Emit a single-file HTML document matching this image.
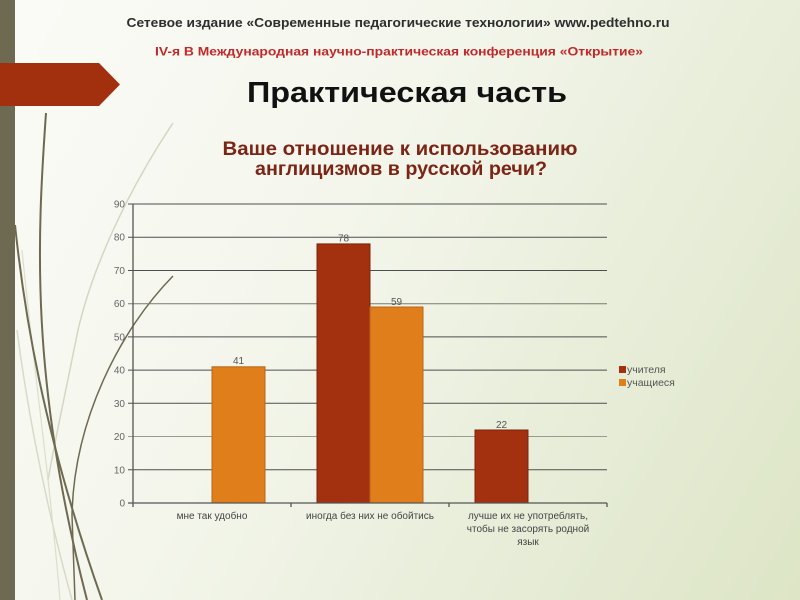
<!DOCTYPE html>
<html><head><meta charset="utf-8"><style>
html,body{margin:0;padding:0;}
body{width:800px;height:600px;overflow:hidden;background:linear-gradient(120deg,#fbfbf7 0%,#f4f6ec 40%,#e6ecd6 75%,#dde5c6 100%);}
svg{display:block;}
</style></head><body>
<svg width="800" height="600" viewBox="0 0 800 600" xmlns="http://www.w3.org/2000/svg" font-family="'Liberation Sans', sans-serif">
<!-- decorative curves -->
<g fill="none">
<path d="M173,123 C125,195 92,270 78,330 C66,390 55,440 48,480" stroke="#d4d6c4" stroke-width="1.5"/>
<path d="M17,330 C30,430 50,520 72,600" stroke="#d8dac8" stroke-width="1.5"/>
<path d="M22,250 C35,380 50,480 60,600" stroke="#dcdecc" stroke-width="1.2"/>
<path d="M46,113 C37,240 30,380 87,600" stroke="#6e6951" stroke-width="2"/>
<path d="M15,225 C24,310 42,430 102,600" stroke="#6e6951" stroke-width="2"/>
<path d="M173,276 C120,330 74,420 72,515 L75,600" stroke="#6e6951" stroke-width="1.5"/>
</g>
<!-- left bar -->
<rect x="0" y="0" width="15" height="600" fill="#6e6951"/>
<!-- red arrow -->
<polygon points="0,63 99,63 120,84.5 99,106 0,106" fill="#a2300f"/>
<!-- header -->
<text x="398" y="27" font-size="12.5" font-weight="bold" fill="#2e2e2e" text-anchor="middle" textLength="543" lengthAdjust="spacingAndGlyphs">Сетевое издание «Современные педагогические технологии» www.pedtehno.ru</text>
<text x="399" y="55.5" font-size="11.5" font-weight="bold" fill="#c0282a" text-anchor="middle" textLength="488" lengthAdjust="spacingAndGlyphs">IV-я В Международная научно-практическая конференция «Открытие»</text>
<text x="407" y="102" font-size="29" font-weight="bold" fill="#111" text-anchor="middle" textLength="320" lengthAdjust="spacingAndGlyphs">Практическая часть</text>
<text x="400" y="155" font-size="19" font-weight="bold" fill="#7b2516" text-anchor="middle" textLength="355" lengthAdjust="spacingAndGlyphs">Ваше отношение к использованию</text>
<text x="401" y="175" font-size="19" font-weight="bold" fill="#7b2516" text-anchor="middle" textLength="292" lengthAdjust="spacingAndGlyphs">англицизмов в русской речи?</text>
<!-- gridlines -->
<g stroke="#4e4e4e" stroke-width="1">
<line x1="128" y1="204" x2="607" y2="204"/>
<line x1="128" y1="237.2" x2="607" y2="237.2"/>
<line x1="128" y1="270.5" x2="607" y2="270.5"/>
<line x1="128" y1="303.7" x2="607" y2="303.7" stroke="#7a7a72"/>
<line x1="128" y1="336.9" x2="607" y2="336.9"/>
<line x1="128" y1="370.1" x2="607" y2="370.1"/>
<line x1="128" y1="403.3" x2="607" y2="403.3"/>
<line x1="128" y1="436.5" x2="607" y2="436.5" stroke="#9a9a90"/>
<line x1="128" y1="469.8" x2="607" y2="469.8"/>
</g>
<!-- bars -->
<g stroke-width="1">
<rect x="212" y="366.8" width="53" height="136.2" fill="#df7e1a" stroke="#b8661a"/>
<rect x="317" y="243.9" width="53" height="259.1" fill="#a3300f" stroke="#7d250c"/>
<rect x="370" y="307" width="53" height="196" fill="#df7e1a" stroke="#b8661a"/>
<rect x="475" y="430" width="53" height="73" fill="#a3300f" stroke="#7d250c"/>
</g>
<!-- axes -->
<g stroke="#555" stroke-width="1.3">
<line x1="133" y1="204" x2="133" y2="507"/>
<line x1="128" y1="503" x2="607" y2="503"/>
<line x1="291" y1="503" x2="291" y2="507"/>
<line x1="449" y1="503" x2="449" y2="507"/>
<line x1="607" y1="503" x2="607" y2="507"/>
</g>
<!-- y tick labels -->
<g font-size="10" fill="#666" text-anchor="end">
<text x="125" y="207.5">90</text>
<text x="125" y="240.7">80</text>
<text x="125" y="274">70</text>
<text x="125" y="307.2">60</text>
<text x="125" y="340.4">50</text>
<text x="125" y="373.6">40</text>
<text x="125" y="406.8">30</text>
<text x="125" y="440">20</text>
<text x="125" y="473.3">10</text>
<text x="125" y="506.5">0</text>
</g>
<!-- value labels -->
<g font-size="10" fill="#555" text-anchor="middle">
<text x="238.5" y="364">41</text>
<text x="343.5" y="241.5">78</text>
<text x="396.5" y="305">59</text>
<text x="501.5" y="428">22</text>
</g>
<!-- category labels -->
<g font-size="10" fill="#444" text-anchor="middle">
<text x="212" y="519">мне так удобно</text>
<text x="370" y="519">иногда без них не обойтись</text>
<text x="528" y="519">лучше их не употреблять,</text>
<text x="528" y="532">чтобы не засорять родной</text>
<text x="528" y="545">язык</text>
</g>
<!-- legend -->
<rect x="619" y="366" width="7" height="7" fill="#a3300f"/>
<rect x="619" y="379" width="7" height="7" fill="#df7e1a"/>
<g font-size="10.5" fill="#555">
<text x="627" y="373">учителя</text>
<text x="627" y="386">учащиеся</text>
</g>
</svg>
</body></html>
